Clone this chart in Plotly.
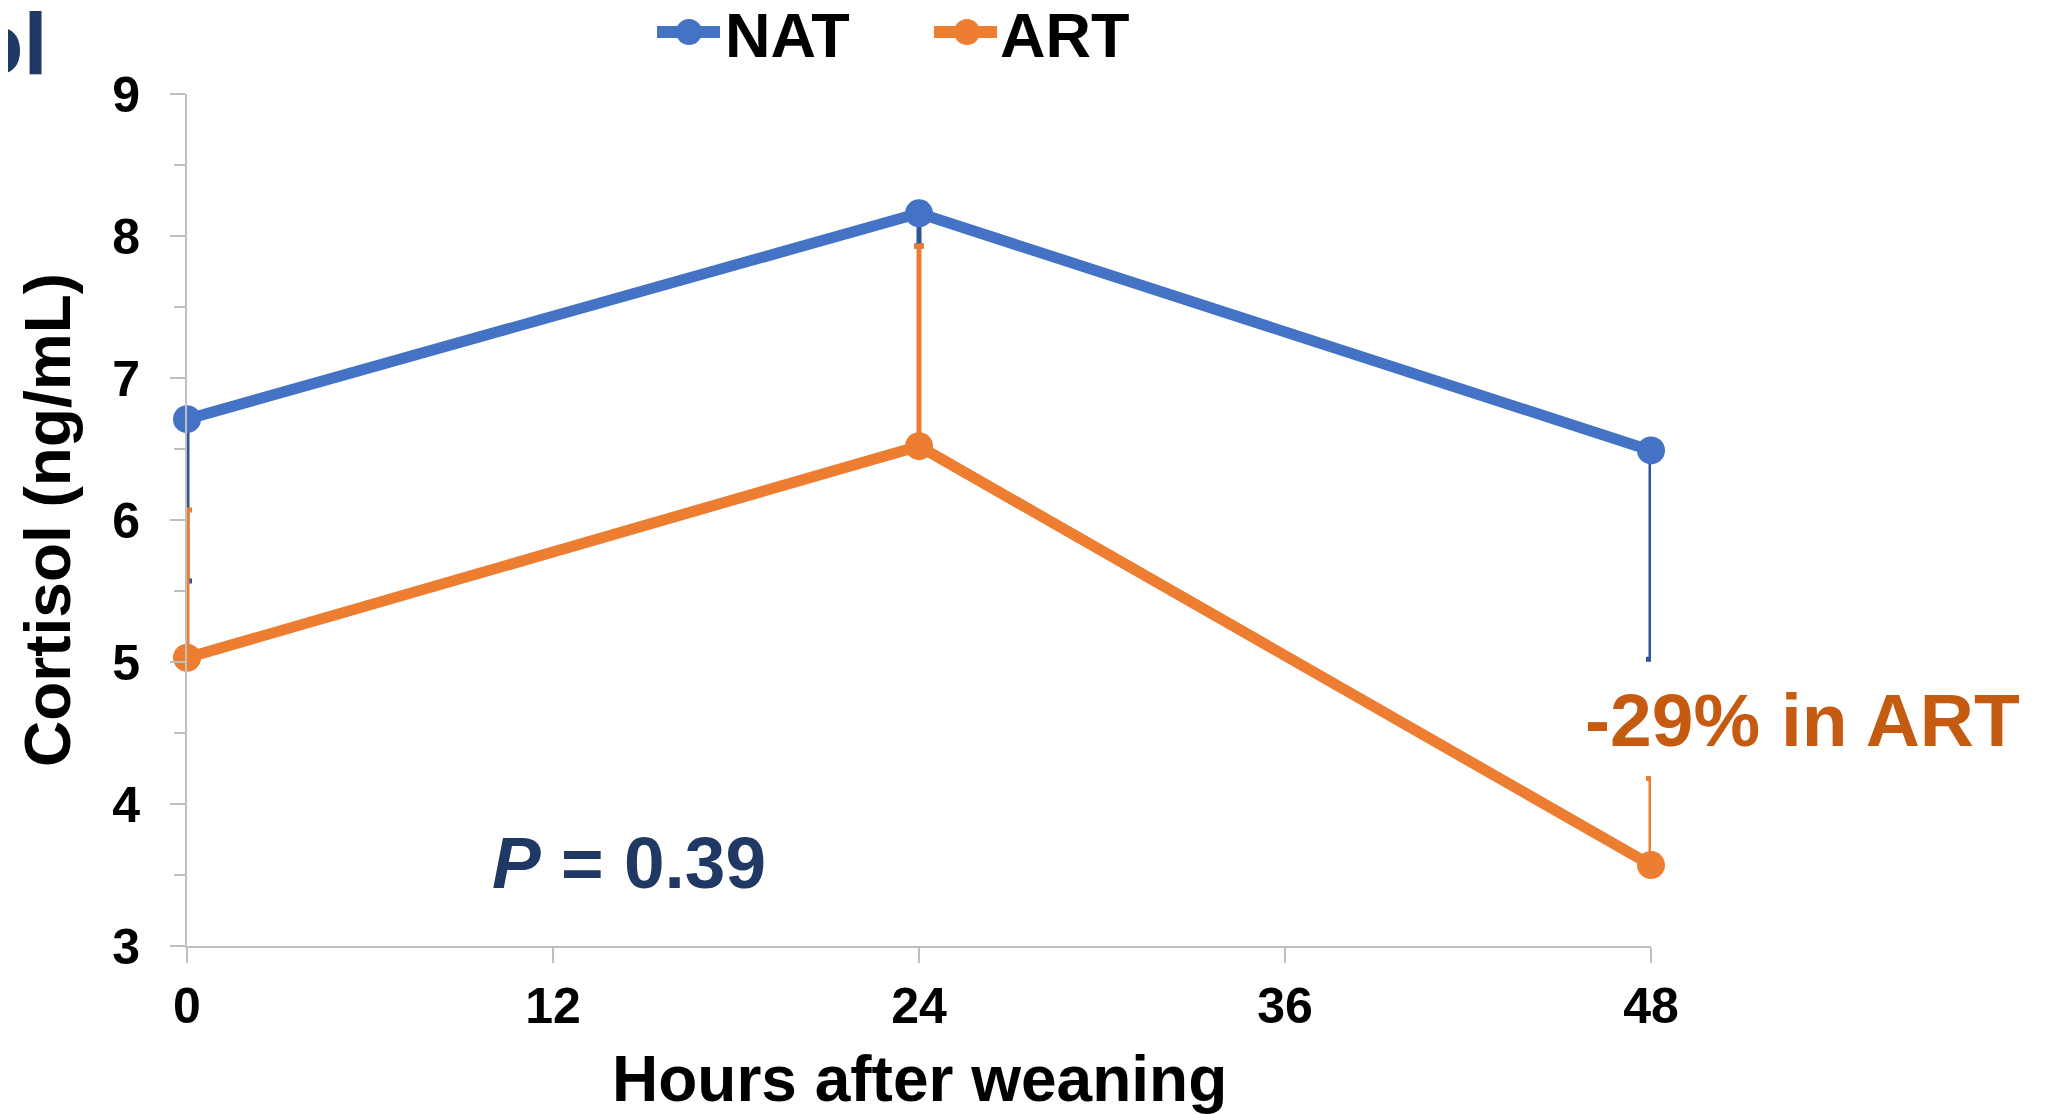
import plotly.graph_objects as go

hours = [0, 24, 48]
nat_mean = [6.71, 8.16, 6.49]
nat_err_minus = [1.14, 0.23, 1.47]
art_mean = [5.03, 6.52, 3.57]
art_err_plus = [1.04, 1.41, 0.61]
zeros = [0, 0, 0]

x_ticks = [0, 12, 24, 36, 48]
y_ticks = [3, 4, 5, 6, 7, 8, 9]

series_names = ["NAT", "ART"]

FONT = "Arial, Liberation Sans, sans-serif"
NAT_C = "#4472c4"
ART_C = "#ed7d31"

# page offset from default body margin
OFF = 8
W, H = 2047, 1114
PW, PH = 1464, 852
L = 187 - OFF
T = 94 - OFF
R = W - L - PW
B = H - T - PH


def px_x(px):
    return (px - OFF - L) / PW


def px_y(py):
    return (T + PH - (py - OFF)) / PH


fig = go.Figure()
fig.add_trace(go.Scatter(
    x=hours, y=nat_mean, name=series_names[0], mode="lines+markers",
    line=dict(color=NAT_C, width=11), marker=dict(size=28, color=NAT_C),
    error_y=dict(type="data", symmetric=False, array=zeros, arrayminus=nat_err_minus,
                 color="#2f5597", thickness=5, width=5),
    cliponaxis=False, showlegend=False,
))
fig.add_trace(go.Scatter(
    x=hours, y=art_mean, name=series_names[1], mode="lines+markers",
    line=dict(color=ART_C, width=11), marker=dict(size=28, color=ART_C),
    error_y=dict(type="data", symmetric=False, array=art_err_plus, arrayminus=zeros,
                 color=ART_C, thickness=5, width=5),
    cliponaxis=False, showlegend=False,
))

axis_common = dict(
    showgrid=False, zeroline=False, showline=True, linecolor="#bfbfbf", linewidth=2,
    ticks="outside", ticklen=15, tickwidth=2, tickcolor="#bfbfbf",
    tickfont=dict(family=FONT, size=50, color="black", weight="bold"),
)
fig.update_xaxes(range=[0, 48], tickvals=x_ticks, ticklabelstandoff=0, **axis_common)
fig.update_yaxes(range=[3, 9], tickvals=y_ticks, ticklabelstandoff=20,
                 minor=dict(dtick=0.5, ticks="outside", ticklen=11, tickwidth=2, tickcolor="#bfbfbf"),
                 **axis_common)

# manual legend (line + dot keys, text)
shapes = []
annotations = []
legend_items = [
    (series_names[0], NAT_C, 657, 720, 689, 723),
    (series_names[1], ART_C, 934, 997, 967, 998),
]
ly = 32
for name, col, lx0, lx1, mx, tx in legend_items:
    shapes.append(dict(type="line", xref="paper", yref="paper",
                       x0=px_x(lx0), x1=px_x(lx1), y0=px_y(ly), y1=px_y(ly),
                       line=dict(color=col, width=12)))
    shapes.append(dict(type="circle", xref="paper", yref="paper",
                       x0=px_x(mx - 13), x1=px_x(mx + 13), y0=px_y(ly + 13), y1=px_y(ly - 13),
                       fillcolor=col, line=dict(color=col, width=0)))
    annotations.append(dict(text=name, xref="paper", yref="paper", x=px_x(tx), y=px_y(ly + 3),
                            xanchor="left", yanchor="middle", showarrow=False,
                            font=dict(family=FONT, size=63, color="black", weight="bold")))

annotations += [
    dict(text="Cortisol (ng/mL)", xref="paper", yref="paper", x=px_x(48), y=0.5,
         xanchor="center", yanchor="middle", textangle=-90, showarrow=False,
         font=dict(family=FONT, size=64, color="black", weight="bold")),
    dict(text="Hours after weaning", xref="paper", yref="paper", x=0.5, y=px_y(1079),
         xanchor="center", yanchor="middle", showarrow=False,
         font=dict(family=FONT, size=64, color="black", weight="bold")),
    dict(text="<i>P</i> = 0.39", xref="x", yref="y", x=14.5, y=3.59,
         xanchor="center", yanchor="middle", showarrow=False,
         font=dict(family=FONT, size=73, color="#1f3864", weight="bold")),
    dict(text="-29% in ART", xref="paper", yref="paper", x=px_x(1803), y=px_y(720),
         xanchor="center", yanchor="middle", showarrow=False,
         font=dict(family=FONT, size=75, color="#c55a11", weight="bold")),
    dict(text="Cortisol", xref="paper", yref="paper", x=px_x(50), y=px_y(44),
         xanchor="right", yanchor="middle", showarrow=False,
         font=dict(family=FONT, size=87, color="#1f3864", weight="bold")),
]

fig.update_layout(
    width=W, height=H,
    margin=dict(l=L, r=R, t=T, b=B, autoexpand=False),
    paper_bgcolor="white", plot_bgcolor="white",
    showlegend=False,
    shapes=shapes,
    annotations=annotations,
)

fig.write_html("out.html")
